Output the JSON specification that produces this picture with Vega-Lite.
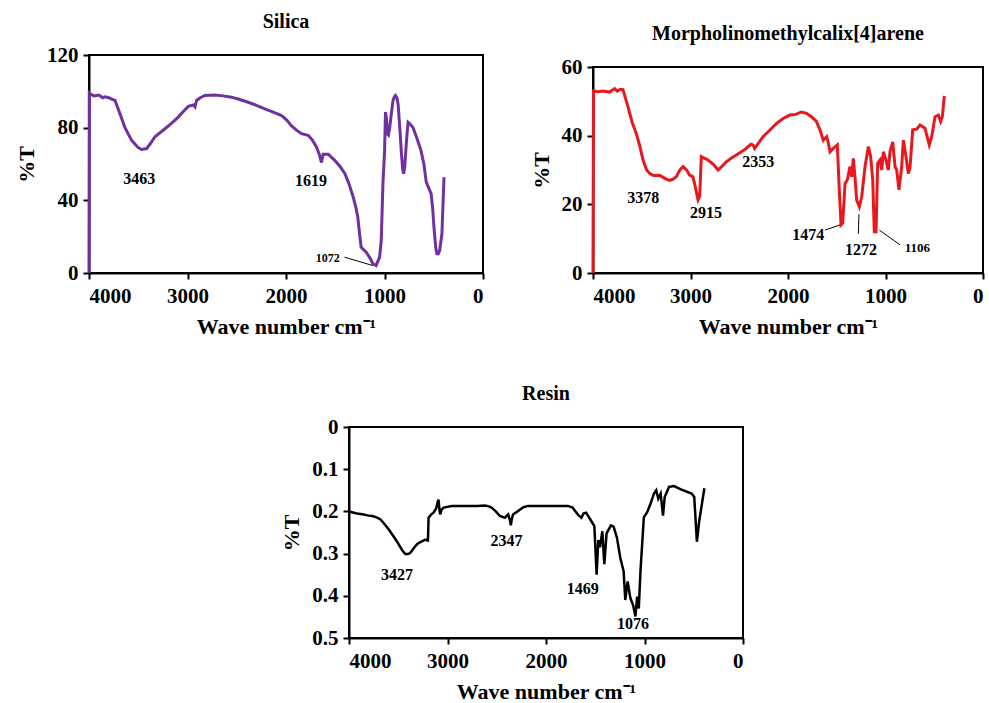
{
  "$schema": "https://vega.github.io/schema/vega-lite/v6.json",
  "background": "white",
  "padding": {"left": 14, "top": 10, "right": 0, "bottom": 0},
  "spacing": 45,
  "datasets": {
    "silica": [
      {"wn":4000,"t":0},{"wn":3997,"t":99},{"wn":3990,"t":98.6},{"wn":3950,"t":97.5},{"wn":3900,"t":98},{"wn":3860,"t":96.5},{"wn":3837,"t":97},{"wn":3800,"t":96.5},{"wn":3760,"t":95.5},{"wn":3736,"t":95},{"wn":3685,"t":87.6},{"wn":3635,"t":80},{"wn":3567,"t":73},{"wn":3500,"t":69},{"wn":3466,"t":68},{"wn":3415,"t":68.5},{"wn":3380,"t":71},{"wn":3330,"t":75},{"wn":3229,"t":79.4},{"wn":3160,"t":82.5},{"wn":3094,"t":85.8},{"wn":3040,"t":89},{"wn":2992,"t":91.7},{"wn":2940,"t":92.5},{"wn":2924,"t":91.5},{"wn":2908,"t":95},{"wn":2870,"t":96.5},{"wn":2823,"t":97.7},{"wn":2722,"t":98},{"wn":2640,"t":97.5},{"wn":2553,"t":96.8},{"wn":2470,"t":95.5},{"wn":2384,"t":94},{"wn":2300,"t":92.3},{"wn":2215,"t":90.4},{"wn":2130,"t":88.6},{"wn":2045,"t":86.7},{"wn":1990,"t":84},{"wn":1944,"t":81},{"wn":1890,"t":78.5},{"wn":1843,"t":76.7},{"wn":1775,"t":75.8},{"wn":1730,"t":73},{"wn":1691,"t":69.4},{"wn":1660,"t":65},{"wn":1640,"t":60.8},{"wn":1623,"t":65.4},{"wn":1572,"t":65.4},{"wn":1505,"t":62},{"wn":1450,"t":58.5},{"wn":1403,"t":54.8},{"wn":1360,"t":49},{"wn":1319,"t":42},{"wn":1290,"t":36},{"wn":1271,"t":30.7},{"wn":1250,"t":20},{"wn":1237,"t":14.2},{"wn":1186,"t":11.5},{"wn":1150,"t":8.5},{"wn":1118,"t":5.1},{"wn":1085,"t":4.1},{"wn":1050,"t":8.7},{"wn":1033,"t":17.9},{"wn":1016,"t":49},{"wn":999,"t":67.4},{"wn":990,"t":88.6},{"wn":980,"t":85},{"wn":970,"t":76.7},{"wn":960,"t":76},{"wn":947,"t":80},{"wn":930,"t":88},{"wn":913,"t":95},{"wn":900,"t":97},{"wn":889,"t":97.7},{"wn":875,"t":96.5},{"wn":862,"t":93},{"wn":845,"t":80},{"wn":828,"t":65.7},{"wn":815,"t":57},{"wn":806,"t":54.6},{"wn":795,"t":58},{"wn":788,"t":64},{"wn":775,"t":74},{"wn":761,"t":83},{"wn":740,"t":82},{"wn":710,"t":80},{"wn":670,"t":74},{"wn":630,"t":67.5},{"wn":600,"t":60},{"wn":576,"t":50},{"wn":526,"t":43.6},{"wn":510,"t":35},{"wn":498,"t":25.2},{"wn":480,"t":14},{"wn":468,"t":10.6},{"wn":455,"t":10.5},{"wn":440,"t":12.4},{"wn":417,"t":21.6},{"wn":396,"t":52.7}
    ],
    "silicaLabels": [
      {"wn":3490,"t":51.5,"label":"3463"},
      {"wn":1745,"t":50.9,"label":"1619"}
    ],
    "silicaMinor": [
      {"wn":1576,"t":8.1,"label":"1072"}
    ],
    "silicaLeaders": [
      {"wn":1406,"t":8.7,"wn2":1118,"t2":4.1}
    ],
    "morph": [
      {"wn":4000,"t":0},{"wn":3995,"t":53},{"wn":3950,"t":52.8},{"wn":3900,"t":53},{"wn":3829,"t":52.7},{"wn":3778,"t":53.7},{"wn":3750,"t":53},{"wn":3720,"t":53.5},{"wn":3693,"t":53.4},{"wn":3641,"t":48.4},{"wn":3600,"t":44},{"wn":3556,"t":40.6},{"wn":3520,"t":37},{"wn":3487,"t":32.9},{"wn":3450,"t":30},{"wn":3419,"t":29},{"wn":3380,"t":28.4},{"wn":3316,"t":28.5},{"wn":3260,"t":27.5},{"wn":3214,"t":27},{"wn":3180,"t":27.3},{"wn":3146,"t":28},{"wn":3110,"t":30},{"wn":3077,"t":31},{"wn":3040,"t":30},{"wn":3009,"t":28.5},{"wn":2975,"t":28},{"wn":2950,"t":25},{"wn":2923,"t":21.3},{"wn":2906,"t":22.3},{"wn":2889,"t":33.9},{"wn":2821,"t":32.9},{"wn":2760,"t":31.5},{"wn":2718,"t":30},{"wn":2680,"t":31},{"wn":2633,"t":32.4},{"wn":2580,"t":33.5},{"wn":2530,"t":34.4},{"wn":2450,"t":35.8},{"wn":2380,"t":37.5},{"wn":2359,"t":37.3},{"wn":2342,"t":36.3},{"wn":2300,"t":38},{"wn":2256,"t":39.7},{"wn":2190,"t":41.5},{"wn":2120,"t":43.5},{"wn":2050,"t":45},{"wn":1983,"t":46},{"wn":1920,"t":46.2},{"wn":1863,"t":46.9},{"wn":1810,"t":46.5},{"wn":1760,"t":45.5},{"wn":1710,"t":44.2},{"wn":1672,"t":41.7},{"wn":1638,"t":38.7},{"wn":1603,"t":39.7},{"wn":1586,"t":37.8},{"wn":1569,"t":35.3},{"wn":1535,"t":36.3},{"wn":1494,"t":37.3},{"wn":1474,"t":24.2},{"wn":1456,"t":14},{"wn":1439,"t":14.5},{"wn":1415,"t":26.1},{"wn":1392,"t":27.1},{"wn":1364,"t":31},{"wn":1347,"t":28},{"wn":1330,"t":33.4},{"wn":1313,"t":28},{"wn":1296,"t":21.3},{"wn":1269,"t":19.3},{"wn":1244,"t":22.2},{"wn":1210,"t":31},{"wn":1176,"t":36.8},{"wn":1152,"t":33.9},{"wn":1131,"t":27.1},{"wn":1115,"t":12},{"wn":1097,"t":12},{"wn":1080,"t":32},{"wn":1056,"t":32.9},{"wn":1039,"t":30},{"wn":1022,"t":35.3},{"wn":995,"t":32.9},{"wn":971,"t":30},{"wn":954,"t":35.3},{"wn":926,"t":38.2},{"wn":902,"t":31},{"wn":885,"t":30},{"wn":862,"t":24.2},{"wn":834,"t":31},{"wn":817,"t":38.7},{"wn":790,"t":33.9},{"wn":766,"t":29},{"wn":749,"t":30.5},{"wn":721,"t":41.7},{"wn":680,"t":41.9},{"wn":646,"t":43.1},{"wn":595,"t":42.2},{"wn":551,"t":37.3},{"wn":526,"t":39.7},{"wn":492,"t":45.5},{"wn":458,"t":46},{"wn":434,"t":44.1},{"wn":417,"t":45.5},{"wn":397,"t":51.6}
    ],
    "morphLabels": [
      {"wn":3484,"t":21.8,"label":"3378"},
      {"wn":2841,"t":17.4,"label":"2915"},
      {"wn":2304,"t":32.2,"label":"2353"},
      {"wn":1792,"t":11.1,"label":"1474"},
      {"wn":1251,"t":6.7,"label":"1272"}
    ],
    "morphMinor": [
      {"wn":674,"t":7.2,"label":"1106"}
    ],
    "morphLeaders": [
      {"wn":1620,"t":12.5,"wn2":1467,"t2":14},
      {"wn":1279,"t":11.4,"wn2":1272,"t2":17.1},
      {"wn":851,"t":8.2,"wn2":1063,"t2":12.5}
    ],
    "resin": [
      {"wn":3990,"t":0.201},{"wn":3920,"t":0.205},{"wn":3865,"t":0.207},{"wn":3800,"t":0.21},{"wn":3764,"t":0.211},{"wn":3720,"t":0.214},{"wn":3680,"t":0.219},{"wn":3640,"t":0.23},{"wn":3596,"t":0.243},{"wn":3545,"t":0.26},{"wn":3495,"t":0.278},{"wn":3460,"t":0.292},{"wn":3428,"t":0.301},{"wn":3400,"t":0.301},{"wn":3377,"t":0.298},{"wn":3345,"t":0.288},{"wn":3310,"t":0.278},{"wn":3270,"t":0.272},{"wn":3226,"t":0.267},{"wn":3205,"t":0.266},{"wn":3199,"t":0.272},{"wn":3192,"t":0.215},{"wn":3165,"t":0.207},{"wn":3142,"t":0.203},{"wn":3115,"t":0.193},{"wn":3100,"t":0.178},{"wn":3091,"t":0.172},{"wn":3080,"t":0.2},{"wn":3074,"t":0.207},{"wn":3060,"t":0.196},{"wn":3040,"t":0.191},{"wn":2956,"t":0.187},{"wn":2870,"t":0.187},{"wn":2788,"t":0.187},{"wn":2700,"t":0.187},{"wn":2620,"t":0.186},{"wn":2580,"t":0.188},{"wn":2553,"t":0.191},{"wn":2510,"t":0.2},{"wn":2468,"t":0.211},{"wn":2418,"t":0.215},{"wn":2384,"t":0.207},{"wn":2365,"t":0.222},{"wn":2357,"t":0.233},{"wn":2345,"t":0.215},{"wn":2333,"t":0.207},{"wn":2283,"t":0.199},{"wn":2230,"t":0.19},{"wn":2182,"t":0.187},{"wn":2100,"t":0.187},{"wn":1946,"t":0.187},{"wn":1860,"t":0.187},{"wn":1778,"t":0.187},{"wn":1730,"t":0.191},{"wn":1704,"t":0.199},{"wn":1671,"t":0.209},{"wn":1640,"t":0.215},{"wn":1620,"t":0.205},{"wn":1593,"t":0.203},{"wn":1553,"t":0.218},{"wn":1509,"t":0.235},{"wn":1486,"t":0.35},{"wn":1469,"t":0.268},{"wn":1452,"t":0.285},{"wn":1428,"t":0.247},{"wn":1408,"t":0.325},{"wn":1385,"t":0.252},{"wn":1341,"t":0.233},{"wn":1314,"t":0.236},{"wn":1280,"t":0.262},{"wn":1246,"t":0.31},{"wn":1212,"t":0.342},{"wn":1195,"t":0.41},{"wn":1171,"t":0.366},{"wn":1143,"t":0.406},{"wn":1116,"t":0.422},{"wn":1092,"t":0.449},{"wn":1075,"t":0.402},{"wn":1058,"t":0.43},{"wn":1041,"t":0.342},{"wn":1007,"t":0.214},{"wn":973,"t":0.202},{"wn":939,"t":0.182},{"wn":904,"t":0.158},{"wn":881,"t":0.15},{"wn":860,"t":0.17},{"wn":836,"t":0.158},{"wn":812,"t":0.21},{"wn":795,"t":0.166},{"wn":751,"t":0.142},{"wn":700,"t":0.14},{"wn":631,"t":0.148},{"wn":563,"t":0.154},{"wn":519,"t":0.158},{"wn":495,"t":0.166},{"wn":468,"t":0.272},{"wn":444,"t":0.222},{"wn":392,"t":0.145}
    ],
    "resinLabels": [
      {"wn":3512,"t":0.351,"label":"3427"},
      {"wn":2401,"t":0.269,"label":"2347"},
      {"wn":1626,"t":0.385,"label":"1469"},
      {"wn":1118,"t":0.466,"label":"1076"}
    ]
  },
  "vconcat": [
    {
      "spacing": 44,
      "hconcat": [
        {
          "spacing": 0,
          "vconcat": [
            {
              "width": 10,
              "height": 1,
              "data": {"values": [{"a": 1}]},
              "mark": {"type": "point", "opacity": 0, "size": 0},
              "view": {"stroke": null}
            },
            {
              "title": {"text": "Silica"},
              "width": 394,
              "height": 218,
              "layer": [
                {
                  "data": {"name": "silica"},
                  "mark": {"type": "line", "color": "#7030A0", "strokeWidth": 3},
                  "encoding": {
                    "x": {"field": "wn", "type": "quantitative", "scale": {"domain": [0, 4000], "reverse": true}, "axis": {"values": [0, 1000, 2000, 3000, 4000], "format": "d", "title": "Wave number cm⁻¹"}},
                    "y": {"field": "t", "type": "quantitative", "scale": {"domain": [0, 120]}, "axis": {"values": [0, 20, 40, 60, 80, 100, 120], "format": "d", "title": "%T"}}
                  }
                },
                {
                  "data": {"name": "silicaLabels"},
                  "mark": {"type": "text", "font": "Liberation Serif", "fontWeight": "bold", "fontSize": 16, "color": "black"},
                  "encoding": {"x": {"field": "wn", "type": "quantitative"}, "y": {"field": "t", "type": "quantitative"}, "text": {"field": "label"}}
                },
                {
                  "data": {"name": "silicaMinor"},
                  "mark": {"type": "text", "font": "Liberation Serif", "fontWeight": "bold", "fontSize": 12, "color": "black"},
                  "encoding": {"x": {"field": "wn", "type": "quantitative"}, "y": {"field": "t", "type": "quantitative"}, "text": {"field": "label"}}
                },
                {
                  "data": {"name": "silicaLeaders"},
                  "mark": {"type": "rule", "color": "black", "strokeWidth": 1},
                  "encoding": {"x": {"field": "wn", "type": "quantitative"}, "y": {"field": "t", "type": "quantitative"}, "x2": {"field": "wn2"}, "y2": {"field": "t2"}}
                }
              ]
            }
          ]
        },
        {
          "spacing": 0,
          "vconcat": [
            {
              "width": 10,
              "height": 13,
              "data": {"values": [{"a": 1}]},
              "mark": {"type": "point", "opacity": 0, "size": 0},
              "view": {"stroke": null}
            },
            {
              "title": {"text": "Morpholinomethylcalix[4]arene"},
              "width": 390,
              "height": 206,
              "layer": [
                {
                  "data": {"name": "morph"},
                  "mark": {"type": "line", "color": "#E8191E", "strokeWidth": 3},
                  "encoding": {
                    "x": {"field": "wn", "type": "quantitative", "scale": {"domain": [0, 4000], "reverse": true}, "axis": {"values": [0, 1000, 2000, 3000, 4000], "format": "d", "title": "Wave number cm⁻¹"}},
                    "y": {"field": "t", "type": "quantitative", "scale": {"domain": [0, 60]}, "axis": {"values": [0, 10, 20, 30, 40, 50, 60], "format": "d", "title": "%T"}}
                  }
                },
                {
                  "data": {"name": "morphLabels"},
                  "mark": {"type": "text", "font": "Liberation Serif", "fontWeight": "bold", "fontSize": 16, "color": "black"},
                  "encoding": {"x": {"field": "wn", "type": "quantitative"}, "y": {"field": "t", "type": "quantitative"}, "text": {"field": "label"}}
                },
                {
                  "data": {"name": "morphMinor"},
                  "mark": {"type": "text", "font": "Liberation Serif", "fontWeight": "bold", "fontSize": 13, "color": "black"},
                  "encoding": {"x": {"field": "wn", "type": "quantitative"}, "y": {"field": "t", "type": "quantitative"}, "text": {"field": "label"}}
                },
                {
                  "data": {"name": "morphLeaders"},
                  "mark": {"type": "rule", "color": "black", "strokeWidth": 1},
                  "encoding": {"x": {"field": "wn", "type": "quantitative"}, "y": {"field": "t", "type": "quantitative"}, "x2": {"field": "wn2"}, "y2": {"field": "t2"}}
                }
              ]
            }
          ]
        }
      ]
    },
    {
      "spacing": 0,
      "hconcat": [
        {
          "width": 190,
          "height": 10,
          "data": {"values": [{"a": 1}]},
          "mark": {"type": "point", "opacity": 0, "size": 0},
          "view": {"stroke": null}
        },
        {
          "title": {"text": "Resin"},
          "width": 394,
          "height": 211,
          "layer": [
            {
              "data": {"name": "resin"},
              "mark": {"type": "line", "color": "black", "strokeWidth": 2.5},
              "encoding": {
                "x": {"field": "wn", "type": "quantitative", "scale": {"domain": [0, 4000], "reverse": true}, "axis": {"values": [0, 1000, 2000, 3000, 4000], "format": "d", "title": "Wave number cm⁻¹"}},
                "y": {"field": "t", "type": "quantitative", "scale": {"domain": [0, 0.5], "reverse": true}, "axis": {"values": [0, 0.1, 0.2, 0.3, 0.4, 0.5], "format": ".1~f", "title": "%T"}}
              }
            },
            {
              "data": {"name": "resinLabels"},
              "mark": {"type": "text", "font": "Liberation Serif", "fontWeight": "bold", "fontSize": 16, "color": "black"},
              "encoding": {"x": {"field": "wn", "type": "quantitative"}, "y": {"field": "t", "type": "quantitative"}, "text": {"field": "label"}}
            }
          ]
        }
      ]
    }
  ],
  "config": {
    "font": "Liberation Serif",
    "view": {"stroke": "black", "strokeWidth": 2},
    "axis": {
      "grid": false,
      "domainColor": "black", "domainWidth": 2,
      "tickColor": "black", "tickWidth": 2, "tickSize": 6,
      "labelFont": "Liberation Serif", "labelFontWeight": "bold", "labelFontSize": 21, "labelColor": "black", "labelPadding": 6,
      "titleFont": "Liberation Serif", "titleFontWeight": "bold", "titleFontSize": 22, "titleColor": "black", "titlePadding": 10
    },
    "axisY": {"labelPadding": 5, "titlePadding": 8},
    "title": {"font": "Liberation Serif", "fontWeight": "bold", "fontSize": 20, "color": "black", "offset": 12}
  }
}
